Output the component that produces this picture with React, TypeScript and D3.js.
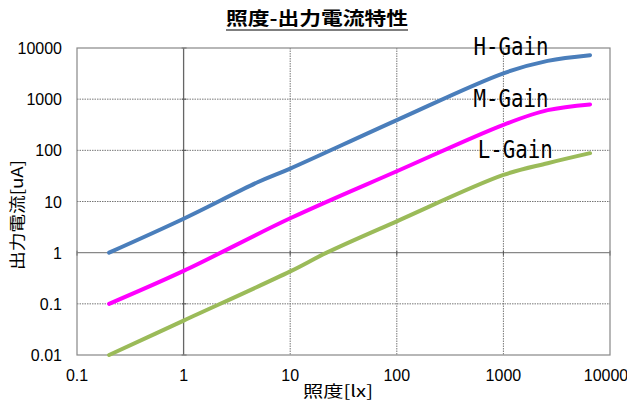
import * as d3 from "d3";

const xTicks = [0.1, 1, 10, 100, 1000, 10000];
const yTicks = [0.01, 0.1, 1, 10, 100, 1000, 10000];
const xTickLabels = ["0.1", "1", "10", "100", "1000", "10000"];
const yTickLabels = ["0.01", "0.1", "1", "10", "100", "1000", "10000"];

const hLux = [0.2, 1, 5, 10, 100, 1000, 2600, 6500];
const hGain = [1, 4.6, 24, 44, 390, 3200, 5600, 7250];
const mLux = [0.2, 1, 10, 100, 1000, 2600, 6500];
const mGain = [0.1, 0.44, 4.7, 39, 315, 610, 790];
const lLux = [0.2, 1, 10, 22, 100, 1000, 2600, 6500];
const lGain = [0.01, 0.047, 0.43, 1, 4.1, 33, 56, 88];

const seriesNames = ["H-Gain", "M-Gain", "L-Gain"];
const seriesColors = ["#4a7ebb", "#ff00ff", "#9bbb59"];
// label anchors in data space (lux, uA)
const labelLux = [525, 525, 575];
const labelVal = [7400, 710, 72];

const W = 635;
const H = 414;
const left = 77;
const right = 610;
const top = 48;
const bottom = 355;

export default function App() {
  const x = d3.scaleLog().domain([0.1, 10000]).range([left, right]);
  const y = d3.scaleLog().domain([0.01, 10000]).range([bottom, top]);

  const line = d3
    .line<[number, number]>()
    .x((d) => x(d[0]))
    .y((d) => y(d[1]))
    .curve(d3.curveCatmullRom.alpha(0.5));

  const series = [
    hLux.map((v, i) => [v, hGain[i]] as [number, number]),
    mLux.map((v, i) => [v, mGain[i]] as [number, number]),
    lLux.map((v, i) => [v, lGain[i]] as [number, number]),
  ];

  const tickFont = "'Liberation Sans', Arial, sans-serif";
  const jpFont = "'Noto Sans CJK JP', sans-serif";

  return (
    <svg width={W} height={H} style={{ display: "block", margin: -8 }}>
      <rect x={0} y={0} width={W} height={H} fill="#fff" />

      {/* title */}
      <text
        x={226}
        y={25}
        fontFamily={jpFont}
        fontWeight="bold"
        fontSize={18}
        textLength={182}
        lengthAdjust="spacingAndGlyphs"
        fill="#000"
      >
        照度-出力電流特性
      </text>
      <line x1={226} x2={408} y1={30} y2={30} stroke="#000" strokeWidth={1.2} />

      {/* grid */}
      {xTicks.slice(1, -1).map((t) =>
        t === 1 ? null : (
          <line
            key={"gx" + t}
            x1={x(t)}
            x2={x(t)}
            y1={top}
            y2={bottom}
            stroke="#777"
            strokeWidth={1}
            strokeDasharray="1.5,1"
          />
        )
      )}
      {yTicks.slice(1, -1).map((t) =>
        t === 1 ? null : (
          <line
            key={"gy" + t}
            x1={left}
            x2={right}
            y1={y(t)}
            y2={y(t)}
            stroke="#777"
            strokeWidth={1}
            strokeDasharray="1.5,1"
          />
        )
      )}

      {/* axes crossing at 1 */}
      <line x1={left} x2={right} y1={y(1)} y2={y(1)} stroke="#888" strokeWidth={1.3} />
      <line x1={x(1)} x2={x(1)} y1={top} y2={bottom} stroke="#666" strokeWidth={1.3} />
      {yTicks.map((t) => (
        <line key={"ty" + t} x1={x(1) - 2} x2={x(1) + 3} y1={y(t)} y2={y(t)} stroke="#555" strokeWidth={1} />
      ))}
      {xTicks.map((t) => (
        <line key={"tx" + t} x1={x(t)} x2={x(t)} y1={y(1) - 2} y2={y(1) + 3} stroke="#555" strokeWidth={1} />
      ))}

      {/* plot border */}
      <rect
        x={left}
        y={top}
        width={right - left}
        height={bottom - top}
        fill="none"
        stroke="#888"
        strokeWidth={1.2}
      />

      {/* series */}
      {series.map((s, i) => (
        <path
          key={seriesNames[i]}
          d={line(s) ?? ""}
          fill="none"
          stroke={seriesColors[i]}
          strokeWidth={4}
          strokeLinecap="round"
          strokeLinejoin="round"
        />
      ))}

      {/* series labels */}
      {seriesNames.map((n, i) => (
        <text
          key={"lab" + n}
          x={x(labelLux[i])}
          y={y(labelVal[i])}
          fontFamily="'DejaVu Sans Mono', monospace"
          fontSize={24}
          textLength={75}
          lengthAdjust="spacingAndGlyphs"
          fill="#000"
        >
          {n}
        </text>
      ))}

      {/* tick labels */}
      {yTicks.map((t, i) => (
        <text
          key={"yl" + t}
          x={62}
          y={y(t) + 6}
          textAnchor="end"
          fontFamily={tickFont}
          fontSize={16}
          fill="#000"
        >
          {yTickLabels[i]}
        </text>
      ))}
      {xTicks.map((t, i) => (
        <text
          key={"xl" + t}
          x={i === xTicks.length - 1 ? x(t) - 4 : x(t)}
          y={381}
          textAnchor="middle"
          fontFamily={tickFont}
          fontSize={16}
          fill="#000"
        >
          {xTickLabels[i]}
        </text>
      ))}

      {/* axis titles */}
      <text
        x={303}
        y={397}
        fontFamily={jpFont}
        fontSize={16}
        textLength={70}
        lengthAdjust="spacingAndGlyphs"
        fill="#000"
      >
        照度[lx]
      </text>
      <text
        transform="translate(23,270) rotate(-90)"
        fontFamily={jpFont}
        fontSize={16}
        textLength={110}
        lengthAdjust="spacingAndGlyphs"
        fill="#000"
      >
        出力電流[uA]
      </text>
    </svg>
  );
}
